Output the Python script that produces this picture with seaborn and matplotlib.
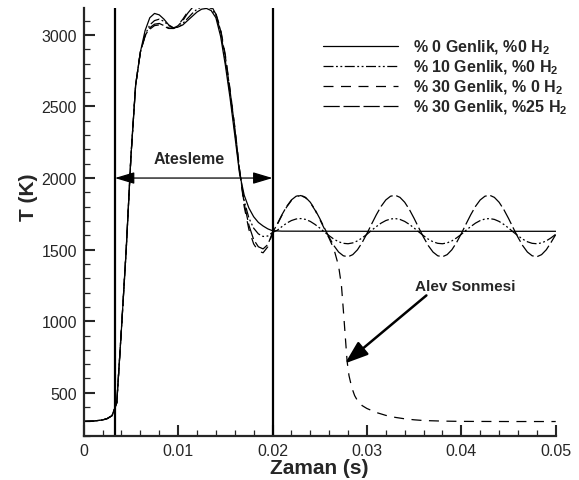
import pandas as pd
import matplotlib
matplotlib.use("Agg")
import matplotlib.pyplot as plt
import seaborn as sns

# ---------------- data ----------------
# common time grid before 0.02 s (all four cases)
t_pre = [0.0, 0.001, 0.002, 0.0025, 0.003, 0.0035, 0.004, 0.0045, 0.005, 0.0055,
         0.006, 0.0065, 0.007, 0.0075, 0.008, 0.0085, 0.009, 0.0095, 0.010, 0.0105,
         0.011, 0.0115, 0.012, 0.0125, 0.013, 0.0135, 0.014, 0.0145, 0.015, 0.0155,
         0.016, 0.0165, 0.017, 0.0175, 0.018, 0.0185, 0.019, 0.0195, 0.020]
rise = [300, 302, 310, 320, 340, 430, 950, 1500, 2150, 2650, 2880]

T_a0_pre = rise + [3030, 3120, 3150, 3140, 3110, 3070, 3050, 3055, 3070,
                   3100, 3130, 3160, 3180, 3185, 3170, 3120, 2990, 2790, 2560,
                   2300, 2035, 1880, 1790, 1730, 1690, 1665, 1645, 1632]
T_a10_pre = rise + [3000, 3070, 3100, 3110, 3095, 3065, 3048, 3055, 3080,
                    3115, 3150, 3180, 3195, 3200, 3185, 3140, 3020, 2820, 2590,
                    2330, 2050, 1840, 1720, 1650, 1610, 1592, 1595, 1620]
T_a30_pre = rise + [2990, 3040, 3065, 3070, 3060, 3045, 3045, 3070, 3110,
                    3160, 3200, 3230, 3245, 3240, 3210, 3150, 3040, 2860, 2620,
                    2360, 2065, 1800, 1640, 1540, 1490, 1478, 1520, 1615]
T_a30h_pre = rise + [2995, 3050, 3075, 3080, 3065, 3048, 3045, 3065, 3100,
                     3150, 3190, 3220, 3235, 3235, 3205, 3145, 3030, 2850, 2610,
                     2350, 2060, 1820, 1670, 1570, 1520, 1505, 1535, 1618]

# after 0.02 s
t_flat = [0.021, 0.03, 0.04, 0.05]
T_a0_post = [1629, 1628, 1628, 1628]

t_osc = [0.0205, 0.021, 0.0215, 0.022, 0.0225, 0.023, 0.0235, 0.024, 0.0245, 0.025,
         0.0255, 0.026, 0.0265, 0.027, 0.0275, 0.028, 0.0285, 0.029, 0.0295, 0.030,
         0.0305, 0.031, 0.0315, 0.032, 0.0325, 0.033, 0.0335, 0.034, 0.0345, 0.035,
         0.0355, 0.036, 0.0365, 0.037, 0.0375, 0.038, 0.0385, 0.039, 0.0395, 0.040,
         0.0405, 0.041, 0.0415, 0.042, 0.0425, 0.043, 0.0435, 0.044, 0.0445, 0.045,
         0.0455, 0.046, 0.0465, 0.047, 0.0475, 0.048, 0.0485, 0.049, 0.0495, 0.050]
T_a10_post = [1635, 1661, 1685, 1703, 1714, 1717, 1711, 1697, 1676, 1651,
              1623, 1597, 1573, 1555, 1544, 1541, 1547, 1561, 1582, 1607,
              1635, 1661, 1685, 1703, 1714, 1717, 1711, 1697, 1676, 1651,
              1623, 1597, 1573, 1555, 1544, 1541, 1547, 1561, 1582, 1607,
              1635, 1661, 1685, 1703, 1714, 1717, 1711, 1697, 1676, 1651,
              1623, 1597, 1573, 1555, 1544, 1541, 1547, 1561, 1582, 1607]
T_a30h_post = [1679, 1744, 1802, 1847, 1873, 1880, 1865, 1831, 1780, 1718,
               1651, 1586, 1528, 1483, 1457, 1450, 1465, 1499, 1550, 1612,
               1679, 1744, 1802, 1847, 1873, 1880, 1865, 1831, 1780, 1718,
               1651, 1586, 1528, 1483, 1457, 1450, 1465, 1499, 1550, 1612,
               1679, 1744, 1802, 1847, 1873, 1880, 1865, 1831, 1780, 1718,
               1651, 1586, 1528, 1483, 1457, 1450, 1465, 1499, 1550, 1605]

# 30 % amplitude without H2: flame blow-off
t_off = [0.0205, 0.021, 0.0215, 0.022, 0.0225, 0.023, 0.0235, 0.024, 0.0245, 0.025,
         0.0255, 0.026, 0.0265, 0.027, 0.0273, 0.0275, 0.0277, 0.0279, 0.0281,
         0.0284, 0.0287, 0.029, 0.0295, 0.030, 0.031, 0.032, 0.033, 0.034, 0.035,
         0.036, 0.038, 0.040, 0.045, 0.050]
T_a30_post = [1675, 1740, 1798, 1843, 1870, 1878, 1862, 1828, 1776, 1712,
              1645, 1578, 1505, 1385, 1250, 1080, 900, 720, 620,
              535, 480, 445, 410, 390, 362, 342, 328, 318, 311,
              306, 302, 300, 299, 299]

labels = ['% 0 Genlik, %0 H$_\\mathbf{2}$',
          '% 10 Genlik, %0 H$_\\mathbf{2}$',
          '% 30 Genlik, % 0 H$_\\mathbf{2}$',
          '% 30 Genlik, %25 H$_\\mathbf{2}$']

frames = [
    pd.DataFrame({'t': t_pre + t_flat, 'T': T_a0_pre + T_a0_post, 'case': labels[0]}),
    pd.DataFrame({'t': t_pre + t_osc, 'T': T_a10_pre + T_a10_post, 'case': labels[1]}),
    pd.DataFrame({'t': t_pre + t_off, 'T': T_a30_pre + T_a30_post, 'case': labels[2]}),
    pd.DataFrame({'t': t_pre + t_osc, 'T': T_a30h_pre + T_a30h_post, 'case': labels[3]}),
]
df = pd.concat(frames, ignore_index=True)

# ---------------- style ----------------
sns.set_style('ticks')
plt.rcParams['font.family'] = ['Liberation Sans', 'DejaVu Sans']
plt.rcParams['mathtext.fontset'] = 'custom'
plt.rcParams['mathtext.rm'] = 'Liberation Sans:bold'
plt.rcParams['mathtext.bf'] = 'Liberation Sans:bold'

dash_map = {labels[0]: '',
            labels[1]: (8, 2, 1.5, 2, 1.5, 2),
            labels[2]: (8, 6),
            labels[3]: (13, 3)}

fig = plt.figure(figsize=(5.79, 4.81), dpi=100)
ax = fig.add_axes([0.1446, 0.0921, 0.8152, 0.8886])

sns.lineplot(data=df, x='t', y='T', style='case', style_order=labels,
             dashes=dash_map, color='black', lw=0.9, sort=False,
             estimator=None, legend=False, ax=ax)

ax.axvline(0.0033, color='black', lw=1.6)
ax.axvline(0.02, color='black', lw=1.6)

ax.set_xlim(0, 0.05)
ax.set_ylim(200, 3186)
ax.set_xticks([0, 0.01, 0.02, 0.03, 0.04, 0.05])
ax.set_xticklabels(['0', '0.01', '0.02', '0.03', '0.04', '0.05'])
ax.set_xticks([i * 0.002 for i in range(26)], minor=True)
ax.set_yticks([500, 1000, 1500, 2000, 2500, 3000])
ax.set_yticks(list(range(200, 3200, 100)), minor=True)
ax.tick_params(which='major', direction='in', length=8, width=1.5,
               labelsize=11.5, pad=5)
ax.tick_params(which='minor', direction='in', length=4, width=0.9)

for s in ['top', 'right']:
    ax.spines[s].set_visible(False)
for s in ['left', 'bottom']:
    ax.spines[s].set_linewidth(1.6)

ax.set_xlabel('Zaman (s)', fontsize=15, fontweight='bold', labelpad=0)
ax.set_ylabel('T (K)', fontsize=15, fontweight='bold')
ax.yaxis.set_label_coords(-0.097, 0.561)

# ignition interval
ax.annotate('', xy=(0.0033, 2000), xytext=(0.02, 2000),
            arrowprops=dict(arrowstyle='<|-|>,head_length=0.6,head_width=0.18',
                            color='black', lw=0.9, mutation_scale=20,
                            shrinkA=0, shrinkB=0))
ax.text(0.01116, 2135, 'Atesleme', fontsize=11.5, fontweight='bold',
        ha='center', va='center')

# flame extinction
ax.annotate('', xy=(0.02768, 705), xytext=(0.0363, 1180),
            arrowprops=dict(arrowstyle='-|>,head_length=0.7,head_width=0.25',
                            color='black', lw=1.8, mutation_scale=20,
                            shrinkA=0, shrinkB=0))
ax.text(0.0404, 1249, 'Alev Sonmesi', fontsize=11, fontweight='bold',
        ha='center', va='center')

ax.legend(ax.lines[:4], labels, loc='upper left',
          bbox_to_anchor=(323 / 579, 1 - 39 / 481), bbox_transform=fig.transFigure,
          frameon=False, borderpad=0, borderaxespad=0, handlelength=4.7,
          handletextpad=0.94, labelspacing=0.1,
          prop={'weight': 'bold', 'size': 11.5})

fig.savefig('out.png', dpi=100)
